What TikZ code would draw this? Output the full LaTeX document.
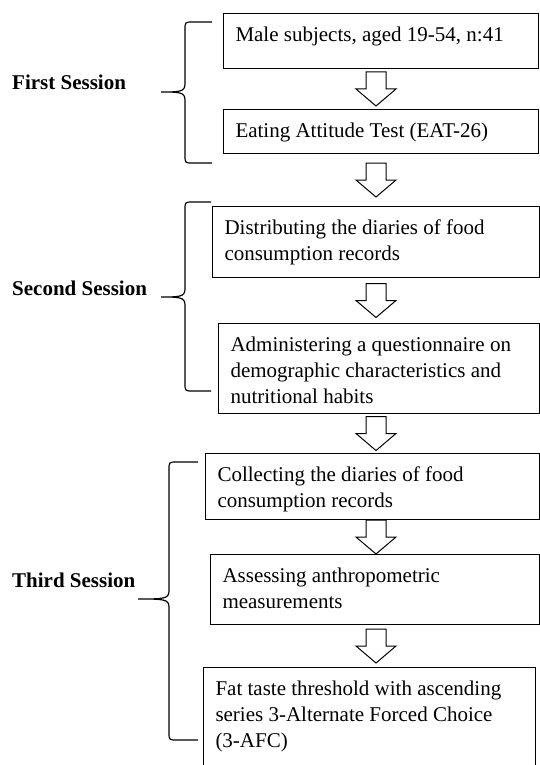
\documentclass[tikz,border=0pt]{standalone}
\usepackage{fontspec}
\setmainfont{Liberation Serif}
\usetikzlibrary{calc}

\tikzset{
  stage/.style={draw, line width=1pt, anchor=north west, inner xsep=12pt, inner ysep=0pt,
    font=\fontsize{21}{26}\selectfont},
  session/.style={anchor=base west, inner sep=0pt, font=\fontsize{21}{26}\selectfont\bfseries},
  bracket/.style={line width=1.2pt},
  blockarrow/.style={line width=1pt, line join=miter}
}

% box text: height, width, lines
\newcommand{\stagetext}[3]{\parbox[t][#1][t]{#2}{\rule{0pt}{28pt}#3}}
% hollow arrow between two stages
\newcommand{\flowarrow}[2]{%
  \draw[blockarrow] let \p1=($(#1.south)!.5!(#2.north)$) in
    (366pt,\y1+17pt) -- (386pt,\y1+17pt) -- (386pt,\y1) -- (396pt,\y1)
    -- (376pt,\y1-17pt) -- (356pt,\y1) -- (366pt,\y1) -- cycle;}
% brace: hook end, spine, tip, top, middle, bottom
\newcommand{\sessionbrace}[6]{%
  \draw[bracket] (#1,#4) -- (#2+8,#4) .. controls (#2,#4) .. (#2,#4+8)
    -- (#2,#5-8) .. controls (#2,#5) and (#2-6,#5) .. (#3,#5)
    .. controls (#2-6,#5) and (#2,#5) .. (#2,#5+8)
    -- (#2,#6-8) .. controls (#2,#6) .. (#2+8,#6) -- (#1,#6);}

\begin{document}
\begin{tikzpicture}[x=1pt,y=-1pt]
  \useasboundingbox (0,0) rectangle (539,765);

  % first session
  \node[stage] (male) at (223,13) {\stagetext{55pt}{291pt}{Male subjects, aged 19-54, n:41}};
  \node[stage] (eat) at (223,109) {\stagetext{44pt}{291pt}{Eating Attitude Test (EAT-26)}};

  % second session
  \node[stage] (distribute) at (212,206) {\stagetext{71pt}{303pt}{Distributing the diaries of food\\consumption records}};
  \node[stage] (questionnaire) at (218,323) {\stagetext{90pt}{297pt}{Administering a questionnaire on\\demographic characteristics and\\nutritional habits}};

  % third session
  \node[stage] (collect) at (205,453) {\stagetext{66pt}{310pt}{Collecting the diaries of food\\consumption records}};
  \node[stage] (anthro) at (210,554) {\stagetext{70pt}{305pt}{Assessing anthropometric\\measurements}};
  \node[stage] (fat) at (203,667) {\stagetext{110pt}{308pt}{Fat taste threshold with ascending\\series 3-Alternate Forced Choice\\(3-AFC)}};

  \flowarrow{male}{eat}
  \flowarrow{eat}{distribute}
  \flowarrow{distribute}{questionnaire}
  \flowarrow{questionnaire}{collect}
  \flowarrow{collect}{anthro}
  \flowarrow{anthro}{fat}

  \sessionbrace{212}{185}{161}{22}{92}{163}
  \sessionbrace{211}{185}{161}{202}{297}{391}
  \sessionbrace{198}{169}{138}{462}{599}{740}

  \node[session] (first) at (12,90) {First Session};
  \node[session] (second) at (12,295) {Second Session};
  \node[session] (third) at (12,587) {Third Session};

\end{tikzpicture}
\end{document}
